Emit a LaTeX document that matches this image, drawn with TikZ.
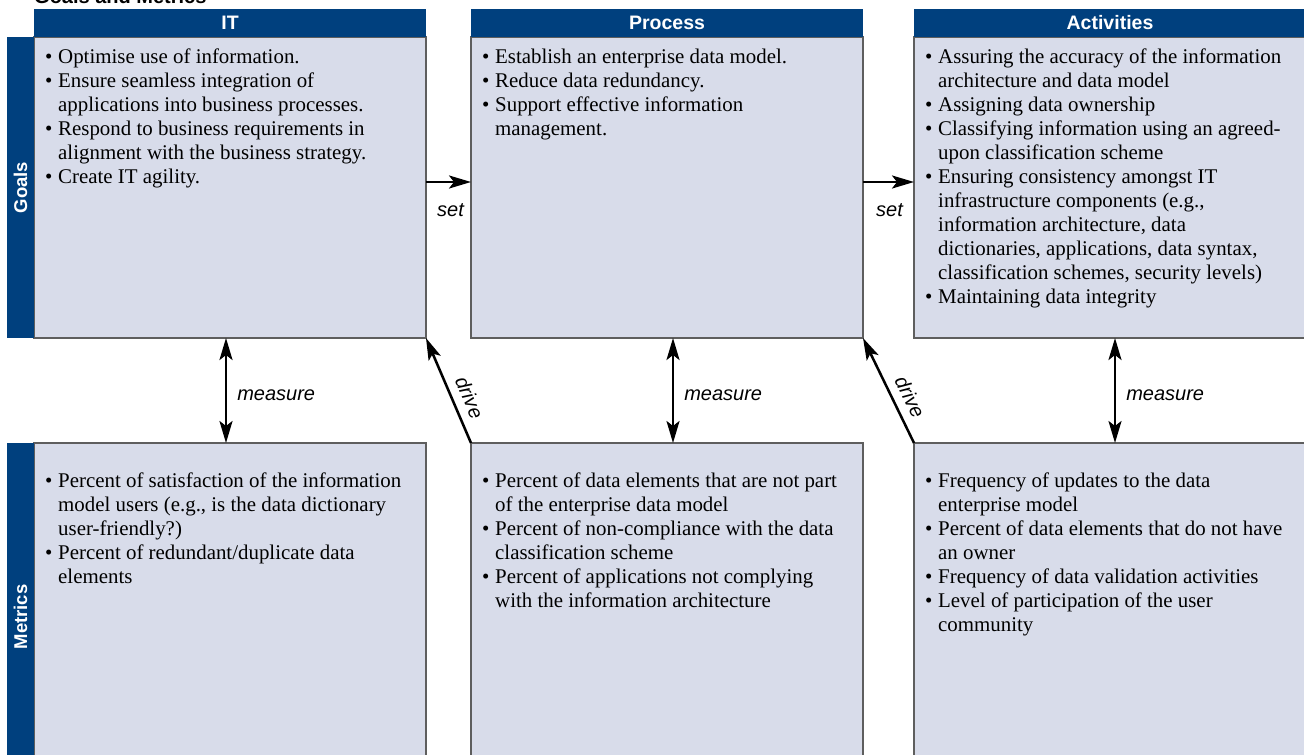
\documentclass[tikz,border=0pt]{standalone}
\usepackage{fontspec}
\setmainfont{Liberation Serif}
\setsansfont{Liberation Sans}
\usetikzlibrary{arrows.meta}
\definecolor{hdrblue}{HTML}{00407E}
\definecolor{boxfill}{HTML}{D8DCEA}
\definecolor{boxline}{HTML}{5E5E5E}
\newcommand{\bl}{\makebox[12pt][l]{\hspace*{-1pt}•}}
\tikzset{
  cell/.style={draw=boxline, line width=1.2pt, fill=boxfill, anchor=north west,
    minimum width=392pt, inner sep=0pt, outer sep=0pt},
  hdr/.style={fill=hdrblue, anchor=north west, minimum width=392pt, minimum height=28pt,
    inner sep=0pt, outer sep=0pt, text=white, font=\fontsize{19.5}{24}\selectfont\sffamily\bfseries},
  sidebar/.style={fill=hdrblue, anchor=north west, minimum width=27pt, inner sep=0pt, outer sep=0pt},
  sidetext/.style={rotate=90, inner sep=0pt, text=white, font=\fontsize{18.5}{20}\selectfont\sffamily\bfseries},
  body/.style={anchor=base west, inner sep=0pt, font=\fontsize{20.9}{24}\selectfont},
  tip/.tip={Stealth[length=22pt, width=13pt, inset=5pt]},
  arr/.style={line width=2.5pt, -tip},
  darr/.style={line width=2.5pt, tip-tip},
  lbl/.style={font=\fontsize{20}{24}\selectfont\sffamily\itshape, inner sep=0pt},
}
\begin{document}
\begin{tikzpicture}[x=1pt, y=-1pt]
\useasboundingbox (0,0) rectangle (1304,755);
\clip (0,0) rectangle (1304,755);

% title (cut off at top)
\node[anchor=base west, inner sep=0pt, font=\fontsize{20}{24}\selectfont\sffamily\bfseries] (title) at (34,3.5) {Goals and Metrics};

% cells
\node[cell, minimum height=301pt] (itg) at (34,37) {};
\node[cell, minimum height=301pt] (prg) at (471,37) {};
\node[cell, minimum height=301pt] (acg) at (914,37) {};
\node[cell, minimum height=348pt] (itm) at (34,443) {};
\node[cell, minimum height=348pt] (prm) at (471,443) {};
\node[cell, minimum height=348pt] (acm) at (914,443) {};

% headers
\node[hdr] (hit) at (34,9) {IT};
\node[hdr] (hpr) at (471,9) {Process};
\node[hdr] (hac) at (914,9) {Activities};

% side bars
\node[sidebar, minimum height=301pt] (sgb) at (7,37) {};
\node[sidebar, minimum height=348pt] (smb) at (7,443) {};
\node[sidetext] (sg) at (20.5,187.5) {Goals};
\node[sidetext] (sm) at (20.5,617) {Metrics};

% goal texts
\node[body] (tig) at (46,63) {\begin{tabular}[t]{@{}l@{}l@{}}
\bl & Optimise use of information.\\
\bl & Ensure seamless integration of\\
    & applications into business processes.\\
\bl & Respond to business requirements in\\
    & alignment with the business strategy.\\
\bl & Create IT agility.
\end{tabular}};

\node[body] (tpg) at (483,63) {\begin{tabular}[t]{@{}l@{}l@{}}
\bl & Establish an enterprise data model.\\
\bl & Reduce data redundancy.\\
\bl & Support effective information\\
    & management.
\end{tabular}};

\node[body] (tag) at (926,63) {\begin{tabular}[t]{@{}l@{}l@{}}
\bl & Assuring the accuracy of the information\\
    & architecture and data model\\
\bl & Assigning data ownership\\
\bl & Classifying information using an agreed-\\
    & upon classification scheme\\
\bl & Ensuring consistency amongst IT\\
    & infrastructure components (e.g.,\\
    & information architecture, data\\
    & dictionaries, applications, data syntax,\\
    & classification schemes, security levels)\\
\bl & Maintaining data integrity
\end{tabular}};

% metric texts
\node[body] (tim) at (46,487) {\begin{tabular}[t]{@{}l@{}l@{}}
\bl & Percent of satisfaction of the information\\
    & model users (e.g., is the data dictionary\\
    & user-friendly?)\\
\bl & Percent of redundant/duplicate data\\
    & elements
\end{tabular}};

\node[body] (tpm) at (483,487) {\begin{tabular}[t]{@{}l@{}l@{}}
\bl & Percent of data elements that are not part\\
    & of the enterprise data model\\
\bl & Percent of non-compliance with the data\\
    & classification scheme\\
\bl & Percent of applications not complying\\
    & with the information architecture
\end{tabular}};

\node[body] (tam) at (926,487) {\begin{tabular}[t]{@{}l@{}l@{}}
\bl & Frequency of updates to the data\\
    & enterprise model\\
\bl & Percent of data elements that do not have\\
    & an owner\\
\bl & Frequency of data validation activities\\
\bl & Level of participation of the user\\
    & community
\end{tabular}};

% set arrows
\draw[arr] ([yshift=5.5pt]itg.east) -- ([yshift=5.5pt]prg.west)
  node[lbl, midway, below=20pt, xshift=2pt] (set1) {set};
\draw[arr] ([yshift=5.5pt]prg.east) -- ([yshift=5.5pt]acg.west)
  node[lbl, midway, below=20pt, xshift=1pt] (set2) {set};

% measure arrows
\draw[darr] ([xshift=-4pt]itg.south) -- ([xshift=-4pt]itm.north)
  node[lbl, midway, right=10pt, yshift=-4.5pt] (m1) {measure};
\draw[darr] ([xshift=6pt]prg.south) -- ([xshift=6pt]prm.north)
  node[lbl, midway, right=10pt, yshift=-4.5pt] (m2) {measure};
\draw[darr] ([xshift=5pt]acg.south) -- ([xshift=5pt]acm.north)
  node[lbl, midway, right=10pt, yshift=-4.5pt] (m3) {measure};

% drive arrows
\draw[arr] (prm.north west) -- (itg.south east)
  node[lbl, sloped, pos=0.37, above=8pt] (d1) {drive};
\draw[arr] (acm.north west) -- (prg.south east)
  node[lbl, sloped, pos=0.37, above=8pt] (d2) {drive};
\end{tikzpicture}
\end{document}
